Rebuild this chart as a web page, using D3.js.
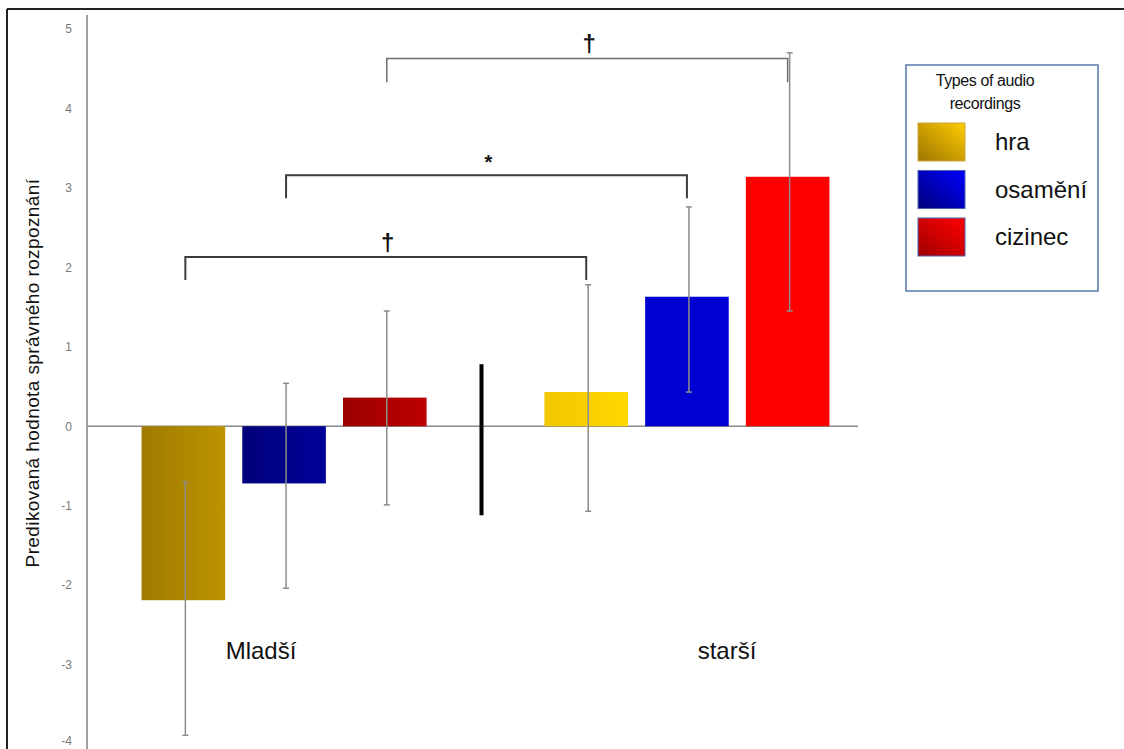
<!DOCTYPE html>
<html>
<head>
<meta charset="utf-8">
<script src="https://cdn.jsdelivr.net/npm/d3@7"></script>
<style>
  html, body { margin: 0; padding: 0; background: #fff; }
  svg { display: block; font-family: "Liberation Sans", Arial, sans-serif; }
</style>
</head>
<body>
<svg id="chart" width="1124" height="749"></svg>
<script>
// ---------- data ----------
const groups = ["Mladší", "starší"];
const types = ["hra", "osamění", "cizinec"];
const valuesMladsi = [-2.19, -0.72, 0.36];
const valuesStarsi = [0.43, 1.63, 3.14];
const errLowMladsi = [-3.89, -2.04, -0.99];
const errHighMladsi = [-0.70, 0.54, 1.45];
const errLowStarsi = [-1.07, 0.43, 1.45];
const errHighStarsi = [1.78, 2.76, 4.70];
const yTicks = [5, 4, 3, 2, 1, 0, -1, -2, -3, -4];
const separatorRange = [0.78, -1.12];
// brackets: from slot, to slot, level, drop-to level, label
const bracketFrom = [0, 1, 2];
const bracketTo = [4, 5, 6];
const bracketLevel = [2.13, 3.16, 4.63];
const bracketDrop = [1.84, 2.87, 4.33];
const bracketLabel = ["†", "*", "†"];
const legendTitle = ["Types of audio", "recordings"];
const yTitle = "Predikovaná hodnota správného rozpoznání";

// ---------- build rows ----------
const rows = [];
types.forEach((t, i) => rows.push({slot: i, group: groups[0], type: t, v: valuesMladsi[i], lo: errLowMladsi[i], hi: errHighMladsi[i]}));
types.forEach((t, i) => rows.push({slot: i + 4, group: groups[1], type: t, v: valuesStarsi[i], lo: errLowStarsi[i], hi: errHighStarsi[i]}));

const svg = d3.select("#chart");
const defs = svg.append("defs");

const y = d3.scaleLinear().domain([-4, 5]).range([744, 29]);
const x = d3.scaleBand().domain(d3.range(7)).range([133, 838]).paddingInner(0.17).paddingOuter(0.085);
const cx = s => x(s) + x.bandwidth() / 2;

// gradients for bars
const barFills = {
  "Mladší|hra": ["#9f7b00", "#bd9400"],
  "Mladší|osamění": ["#00007a", "#000098"],
  "Mladší|cizinec": ["#9c0000", "#bb0000"],
  "starší|hra": ["#f2c600", "#ffd900"],
  "starší|osamění": ["#0000cf", "#0000d4"],
  "starší|cizinec": ["#ff0000", "#ff0000"]
};
Object.entries(barFills).forEach(([k, c], i) => {
  const g = defs.append("linearGradient").attr("id", "bg" + i).attr("x1", "0").attr("x2", "1").attr("y1", "0").attr("y2", "0");
  g.append("stop").attr("offset", "0").attr("stop-color", c[0]);
  g.append("stop").attr("offset", "1").attr("stop-color", c[1]);
  barFills[k].id = "bg" + i;
});
const legendFills = [["#9c7400", "#ffcc00"], ["#00007a", "#0000ff"], ["#a00000", "#ff0000"]];
legendFills.forEach((c, i) => {
  const g = defs.append("linearGradient").attr("id", "lg" + i).attr("x1", "0").attr("x2", "1").attr("y1", "1").attr("y2", "0");
  g.append("stop").attr("offset", "0").attr("stop-color", c[0]);
  g.append("stop").attr("offset", "1").attr("stop-color", c[1]);
});

// outer frame
svg.append("line").attr("x1", 7).attr("x2", 1124).attr("y1", 9).attr("y2", 9).attr("stroke", "#222").attr("stroke-width", 2);
svg.append("line").attr("x1", 7).attr("x2", 7).attr("y1", 9).attr("y2", 749).attr("stroke", "#222").attr("stroke-width", 2);

// y axis
const axis = svg.append("g").attr("transform", "translate(87,0)")
  .call(d3.axisLeft(y).tickValues(yTicks).tickSize(0).tickPadding(15).tickFormat(d => String(d)));
axis.select(".domain").remove();
axis.selectAll("text").attr("fill", "#7a7a7a").style("font-size", "12px").style("font-family", "Liberation Sans, Arial, sans-serif");
axis.selectAll(".tick").filter(d => d === -4).select("text").attr("dy", "0.05em");
svg.append("line").attr("x1", 87).attr("x2", 87).attr("y1", 15).attr("y2", 749).attr("stroke", "#808080").attr("stroke-width", 1.5);

// zero line
svg.append("line").attr("x1", 87).attr("x2", 858).attr("y1", y(0)).attr("y2", y(0)).attr("stroke", "#8a8a8a").attr("stroke-width", 1.5);

// bars
svg.append("g").selectAll("rect").data(rows).join("rect")
  .attr("x", d => x(d.slot))
  .attr("width", x.bandwidth())
  .attr("y", d => y(Math.max(0, d.v)))
  .attr("height", d => Math.abs(y(d.v) - y(0)))
  .attr("fill", d => "url(#" + barFills[d.group + "|" + d.type].id + ")");

// error bars
const eb = svg.append("g").attr("stroke", "#8c8c8c").attr("stroke-width", 1.5);
rows.forEach(d => {
  const ex = cx(d.slot) + 2;
  eb.append("line").attr("x1", ex).attr("x2", ex).attr("y1", y(d.hi)).attr("y2", y(d.lo));
  eb.append("line").attr("x1", ex - 3).attr("x2", ex + 3).attr("y1", y(d.hi)).attr("y2", y(d.hi));
  eb.append("line").attr("x1", ex - 3).attr("x2", ex + 3).attr("y1", y(d.lo)).attr("y2", y(d.lo));
});

// separator
svg.append("line").attr("x1", cx(3) - 4).attr("x2", cx(3) - 4)
  .attr("y1", y(separatorRange[0])).attr("y2", y(separatorRange[1]))
  .attr("stroke", "#000").attr("stroke-width", 4);

// brackets
const br = svg.append("g");
bracketFrom.forEach((f, i) => {
  const x1 = cx(f) + 2, x2 = cx(bracketTo[i]);
  br.append("path")
    .attr("d", `M${x1},${y(bracketDrop[i])}V${y(bracketLevel[i])}H${x2}V${y(bracketDrop[i])}`)
    .attr("fill", "none").attr("stroke", i === 2 ? "#6e6e6e" : "#3c3c3c").attr("stroke-width", i === 2 ? 1.5 : 2);
  const isStar = bracketLabel[i] === "*";
  br.append("text").attr("x", (x1 + x2) / 2 + 2).attr("y", y(bracketLevel[i]) - (isStar ? 6 : 6))
    .attr("text-anchor", "middle").style("font-size", isStar ? "20px" : "24px").style("font-weight", "bold")
    .attr("fill", "#111").text(bracketLabel[i]);
});

// group labels
svg.append("text").attr("x", 261).attr("y", 659).attr("text-anchor", "middle").style("font-size", "24px").attr("fill", "#111").text(groups[0]);
svg.append("text").attr("x", 727).attr("y", 659).attr("text-anchor", "middle").style("font-size", "24px").attr("fill", "#111").text(groups[1]);

// y title
svg.append("text").attr("transform", "translate(39,373) rotate(-90)").attr("text-anchor", "middle")
  .style("font-size", "19px").style("letter-spacing", "0.4px").attr("fill", "#111").text(yTitle);

// legend
const lg = svg.append("g");
lg.append("rect").attr("x", 906).attr("y", 65).attr("width", 192).attr("height", 226)
  .attr("fill", "#fff").attr("stroke", "#5577aa").attr("stroke-width", 1.5);
legendTitle.forEach((t, i) => {
  lg.append("text").attr("x", 985).attr("y", 86 + i * 23).attr("text-anchor", "middle")
    .style("font-size", "16px").style("letter-spacing", "-0.4px").attr("fill", "#111").text(t);
});
types.forEach((t, i) => {
  const yy = 123 + i * 47.5;
  lg.append("rect").attr("x", 918).attr("y", yy).attr("width", 47).attr("height", 38)
    .attr("fill", `url(#lg${i})`).attr("stroke", i === 0 ? "#c9a640" : "#4a62b0").attr("stroke-width", 1);
  lg.append("text").attr("x", 995).attr("y", yy + 27).style("font-size", "24px").attr("fill", "#111").text(t);
});
</script>
</body>
</html>
